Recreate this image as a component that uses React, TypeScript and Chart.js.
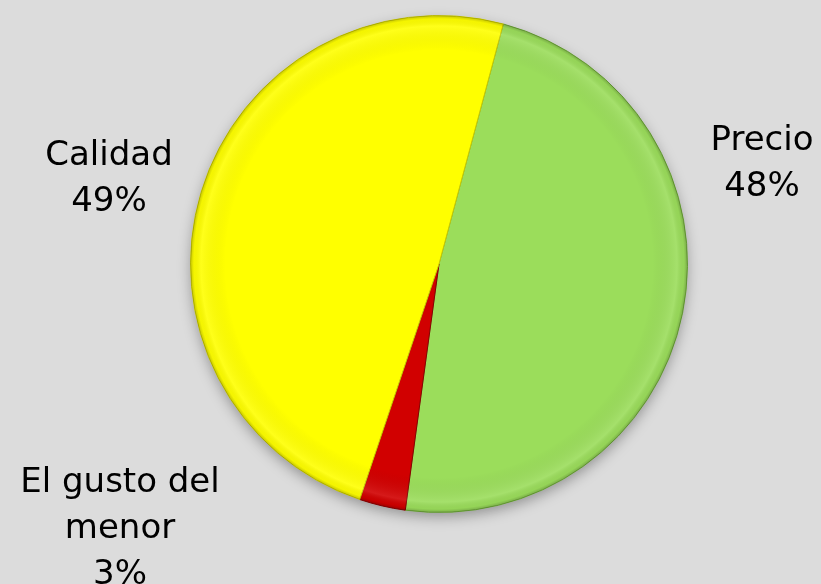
import React, { useEffect, useRef } from "react";
import { Chart, registerables } from "chart.js";

Chart.register(...registerables);

const categories = ["Precio", "El gusto del menor", "Calidad"];
const values = [48, 3, 49];
const labelLines = [["Precio"], ["El gusto del", "menor"], ["Calidad"]];
const sliceColors = ["#9bdd5b", "#d10000", "#ffff00"];
const edgeColors = ["#6fa93a", "#8a0000", "#c9c900"];

const W = 821;
const H = 584;
const BG = "#dcdcdc";

// label anchor points (center x, first baseline y)
const labelAnchors = [
  { x: 762, y: 150 },
  { x: 120, y: 492 },
  { x: 109, y: 165 },
];

export default function App() {
  const ref = useRef<HTMLCanvasElement | null>(null);
  useEffect(() => {
    const canvas = ref.current;
    if (!canvas) return;
    const total = values.reduce((a, b) => a + b, 0);

    const shadowPlugin = {
      id: "shadowPlugin",
      beforeDatasetsDraw(chart: any) {
        const meta = chart.getDatasetMeta(0);
        const arc = meta.data[0];
        if (!arc) return;
        const { x, y, outerRadius } = arc.getProps(["x", "y", "outerRadius"], true);
        const ctx = chart.ctx;
        ctx.save();
        ctx.shadowColor = "rgba(0,0,0,0.35)";
        ctx.shadowBlur = 14;
        ctx.shadowOffsetY = 5;
        ctx.fillStyle = "#888";
        ctx.beginPath();
        ctx.arc(x, y, outerRadius - 1, 0, Math.PI * 2);
        ctx.fill();
        ctx.restore();
      },
      afterDatasetsDraw(chart: any) {
        const meta = chart.getDatasetMeta(0);
        const arc = meta.data[0];
        if (!arc) return;
        const { x, y, outerRadius } = arc.getProps(["x", "y", "outerRadius"], true);
        const ctx = chart.ctx;
        ctx.save();
        const g = ctx.createRadialGradient(x, y, outerRadius * 0.86, x, y, outerRadius);
        g.addColorStop(0, "rgba(0,0,0,0)");
        g.addColorStop(0.7, "rgba(255,255,255,0.10)");
        g.addColorStop(0.9, "rgba(0,0,0,0.04)");
        g.addColorStop(1, "rgba(0,0,0,0.22)");
        ctx.fillStyle = g;
        ctx.beginPath();
        ctx.arc(x, y, outerRadius, 0, Math.PI * 2);
        ctx.fill();
        ctx.restore();

        // labels
        ctx.save();
        ctx.fillStyle = "#000";
        ctx.font = "34px 'DejaVu Sans'";
        ctx.textAlign = "center";
        ctx.textBaseline = "alphabetic";
        const lh = 46;
        values.forEach((v, i) => {
          const lines = [...labelLines[i], Math.round((v / total) * 100) + "%"];
          const a = labelAnchors[i];
          lines.forEach((t, j) => ctx.fillText(t, a.x, a.y + j * lh));
        });
        ctx.restore();
      },
    };

    const chart = new Chart(canvas, {
      type: "pie",
      data: {
        labels: categories,
        datasets: [
          {
            data: values,
            backgroundColor: sliceColors,
            borderColor: edgeColors,
            borderWidth: 1,
          },
        ],
      },
      options: {
        responsive: false,
        animation: false,
        rotation: 15,
        layout: { padding: { left: 190, right: 133, top: 15, bottom: 71 } },
        plugins: {
          legend: { display: false },
          tooltip: { enabled: false },
        },
      },
      plugins: [shadowPlugin],
    });
    return () => chart.destroy();
  }, []);

  return (
    <div style={{ position: "fixed", left: 0, top: 0, width: W, height: H, background: BG }}>
      <canvas ref={ref} width={W} height={H} style={{ display: "block", width: W, height: H }} />
    </div>
  );
}
